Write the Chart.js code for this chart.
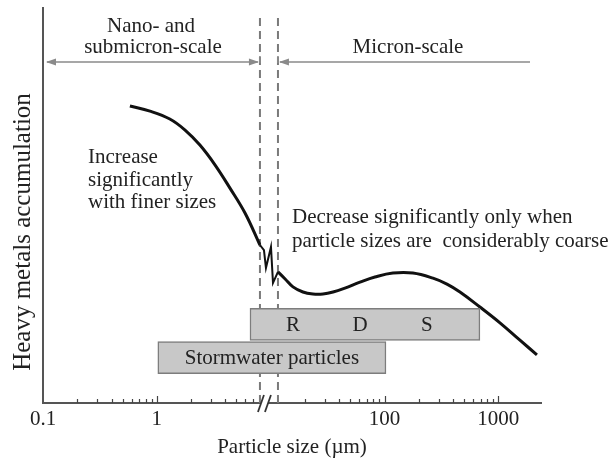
<!DOCTYPE html>
<html>
<head>
<meta charset="utf-8">
<script src="https://cdn.jsdelivr.net/npm/chart.js@4.4.1/dist/chart.umd.min.js"></script>
<style>
  html, body { margin: 0; padding: 0; background: #fff; }
</style>
</head>
<body>
<canvas id="chart" width="616" height="458"></canvas>
<script>
// ===== data (particle size in µm, accumulation is unitless) =====
const fineSize = [0.58, 0.87, 1.3, 1.77, 2.39, 3.24, 4.39, 5.95, 8.05];
const fineLevel = [75.2, 73.9, 71.9, 69.1, 65.3, 60.3, 54.4, 48.1, 40.0];

const breakSize = [8.05, 8.73, 9.09, 10.06, 10.48, 11.59];
const breakLevel = [40.0, 38.7, 34.2, 39.5, 30.4, 33.2];

const coarseSize = [11.59, 13.4, 15.7, 19.2, 23.5, 28.8, 35.3, 44.9, 60.9, 82.4, 118.6, 177.7, 266.5, 353.6, 460, 689, 1033, 1548, 2183];
const coarseLevel = [33.2, 31.4, 29.4, 28.1, 27.6, 27.6, 28.1, 29.1, 30.6, 31.9, 32.9, 32.9, 31.6, 30.1, 28.1, 24.3, 20.3, 15.9, 12.2];

// size ranges of the two particle groups
const boxNames = ['RDS', 'Stormwater particles'];
const boxFrom = [6.58, 1.02];
const boxTo = [689, 103];
const boxLevel = [19.9, 11.5];

const rdsLabels = ['R', 'D', 'S'];
const rdsLabelSize = [15.7, 60.9, 236];

// nano / micron boundary (dashed lines)
const scaleBounds = [8.05, 11.59];

const xTickLabels = [0.1, 1, 100, 1000];
const xMinorTicks = [0.2, 0.3, 0.4, 0.5, 0.6, 0.7, 0.8, 0.9,
                     2, 3, 4, 5, 6, 7,
                     20, 30, 40, 50, 60, 70, 80, 90,
                     200, 300, 400, 500, 600, 700, 800, 900];

const serif = (px) => px + 'px "Liberation Serif", "Times New Roman", serif';
const ink = '#222';
const axisGrey = '#555';
const arrowGrey = '#8a8a8a';

const pts = (xs, ys) => xs.map((x, i) => ({ x, y: ys[i] }));

const curve = {
    type: 'line',
    borderColor: '#111',
    borderWidth: 3,
    pointRadius: 0,
    fill: false,
};

const dashed = {
    type: 'line',
    borderColor: '#7a7a7a',
    borderWidth: 2,
    borderDash: [8, 5],
    pointRadius: 0,
    fill: false,
    tension: 0,
};

function arrowHead(ctx, x, y, dir) {
    ctx.beginPath();
    ctx.moveTo(x, y);
    ctx.lineTo(x - dir * 10, y - 3.5);
    ctx.lineTo(x - dir * 10, y + 3.5);
    ctx.closePath();
    ctx.fill();
}

const overlay = {
    id: 'overlay',
    afterDraw(chart) {
        const { ctx, chartArea: a, scales: { x, y } } = chart;
        ctx.save();

        // inward tick marks
        ctx.strokeStyle = '#444';
        ctx.lineWidth = 1.2;
        const tick = (v, len) => {
            const px = Math.round(x.getPixelForValue(v)) + 0.5;
            ctx.beginPath();
            ctx.moveTo(px, a.bottom);
            ctx.lineTo(px, a.bottom - len);
            ctx.stroke();
        };
        xMinorTicks.forEach(v => tick(v, 4));
        xTickLabels.slice(1).forEach(v => tick(v, 7));

        // axis break
        const d1 = x.getPixelForValue(scaleBounds[0]);
        const d2 = x.getPixelForValue(scaleBounds[1]);
        ctx.fillStyle = '#fff';
        ctx.fillRect(d1 + 1, a.bottom - 3, 7, 6);
        ctx.strokeStyle = '#333';
        ctx.lineWidth = 1.8;
        [0, 7].forEach(o => {
            ctx.beginPath();
            ctx.moveTo(d1 - 2 + o, a.bottom + 9);
            ctx.lineTo(d1 + 4 + o, a.bottom - 8);
            ctx.stroke();
        });

        // scale arrows at the top
        const ay = a.top + 54;
        ctx.strokeStyle = arrowGrey;
        ctx.fillStyle = arrowGrey;
        ctx.lineWidth = 1.6;
        ctx.beginPath();
        ctx.moveTo(a.left + 4, ay);
        ctx.lineTo(d1 - 2, ay);
        ctx.moveTo(d1, ay - 6);
        ctx.lineTo(d1, ay + 1);
        ctx.moveTo(d2 + 2, ay);
        ctx.lineTo(a.right - 11, ay);
        ctx.moveTo(d2, ay - 6);
        ctx.lineTo(d2, ay + 1);
        ctx.stroke();
        arrowHead(ctx, a.left + 3, ay, -1);
        arrowHead(ctx, d1 - 1, ay, 1);
        arrowHead(ctx, d2 + 1, ay, -1);

        // annotations
        ctx.fillStyle = ink;
        ctx.font = serif(21);
        ctx.textBaseline = 'alphabetic';
        ctx.textAlign = 'center';
        ctx.fillText('Nano- and', 151, 32);
        ctx.fillText('submicron-scale', 153, 53);
        ctx.fillText('Micron-scale', 408, 53);

        ctx.textAlign = 'left';
        ctx.fillText('Increase', 88, 163);
        ctx.fillText('significantly', 88, 186);
        ctx.fillText('with finer sizes', 88, 208);
        ctx.fillText('Decrease significantly only when', 292, 223);
        ctx.fillText('particle sizes are  considerably coarse', 292, 247);

        // labels inside the boxes
        ctx.textAlign = 'center';
        ctx.textBaseline = 'middle';
        const rdsY = y.getPixelForValue(boxLevel[0]) + 1;
        rdsLabels.forEach((t, i) => ctx.fillText(t, x.getPixelForValue(rdsLabelSize[i]), rdsY));
        const sx = (x.getPixelForValue(boxFrom[1]) + x.getPixelForValue(boxTo[1])) / 2;
        ctx.fillText(boxNames[1], sx, y.getPixelForValue(boxLevel[1]) + 1);

        // y axis title
        ctx.translate(23, 232);
        ctx.rotate(-Math.PI / 2);
        ctx.font = serif(25);
        ctx.fillText('Heavy metals accumulation', 0, 0);
        ctx.restore();
    }
};

new Chart(document.getElementById('chart'), {
    type: 'line',
    data: {
        datasets: [
            {
                type: 'bar',
                indexAxis: 'y',
                data: boxNames.map((n, i) => ({ x: [boxFrom[i], boxTo[i]], y: boxLevel[i] })),
                backgroundColor: '#c8c8c8',
                borderColor: '#7d7d7d',
                borderWidth: 1.5,
                borderSkipped: false,
                barThickness: 32,
            },
            { ...curve, data: pts(fineSize, fineLevel), tension: 0.4 },
            { ...curve, data: pts(breakSize, breakLevel), tension: 0, borderWidth: 2 },
            { ...curve, data: pts(coarseSize, coarseLevel), tension: 0.4 },
            { ...dashed, data: [{ x: scaleBounds[0], y: 0 }, { x: scaleBounds[0], y: 98.2 }] },
            { ...dashed, data: [{ x: scaleBounds[1], y: 0 }, { x: scaleBounds[1], y: 98.2 }] },
        ]
    },
    options: {
        responsive: false,
        animation: false,
        events: [],
        layout: { padding: { top: 8, right: 75, bottom: 0, left: 0 } },
        plugins: {
            legend: { display: false },
            tooltip: { enabled: false },
        },
        scales: {
            x: {
                type: 'logarithmic',
                min: 0.1,
                max: 2370,
                offset: false,
                afterBuildTicks: (s) => { s.ticks = xTickLabels.map(v => ({ value: v })); },
                afterFit: (s) => { s.height = 55; },
                grid: { display: false, drawTicks: false, offset: false },
                border: { display: true, color: axisGrey, width: 2 },
                ticks: {
                    autoSkip: false,
                    maxRotation: 0,
                    padding: 4,
                    color: ink,
                    font: { family: '"Liberation Serif"', size: 21 },
                    callback: (v) => String(v),
                },
                title: {
                    display: true,
                    text: 'Particle size (µm)',
                    color: ink,
                    font: { family: '"Liberation Serif"', size: 21 },
                    padding: { top: 0, bottom: -2 },
                },
            },
            y: {
                type: 'linear',
                min: 0,
                max: 100,
                offset: false,
                afterFit: (s) => { s.width = 43; },
                grid: { display: false, drawTicks: false, offset: false },
                border: { display: true, color: axisGrey, width: 2 },
                ticks: { display: false },
            },
        },
    },
    plugins: [overlay],
});
</script>
</body>
</html>
